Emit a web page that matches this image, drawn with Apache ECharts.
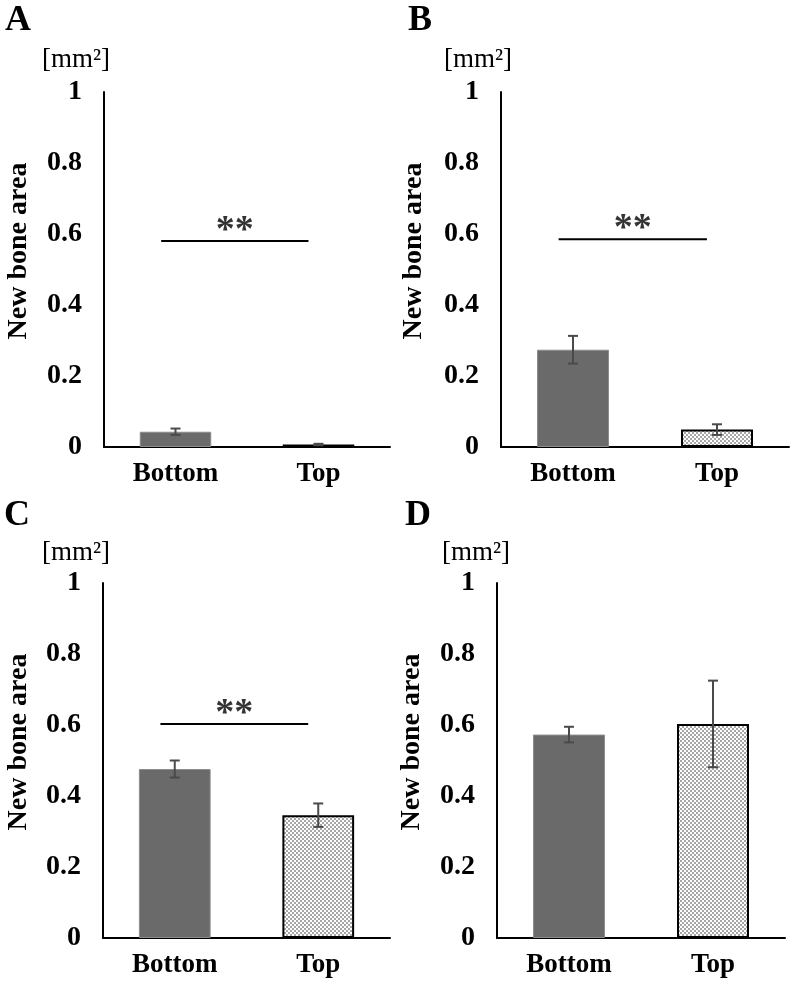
<!DOCTYPE html>
<html>
<head>
<meta charset="utf-8">
<script src="https://cdn.jsdelivr.net/npm/echarts/dist/echarts.min.js"></script>
<style>html,body{margin:0;padding:0;background:#fff}#c{width:792px;height:982px}</style>
</head>
<body>
<div id="c"></div>
<script>
// ---- data ----
const categories = ['Bottom', 'Top'];
const panelLetters = ['A', 'B', 'C', 'D'];
const bottomMean = [0.043, 0.274, 0.476, 0.573];
const bottomErr  = [0.009, 0.039, 0.024, 0.022];
const topMean    = [0.007, 0.049, 0.346, 0.603];
const topErr     = [0.002, 0.015, 0.033, 0.122];
const sigLevel   = [0.58, 0.585, 0.603, null];
const sigMark    = ['**', '**', '**', ''];
const sigSpan    = [-0.1, 0.93];
const yMin = 0, yMax = 1, yInterval = 0.2;
const unitText = '[mm\u00B2]';
const yTitle = 'New bone area';

// ---- layout ----
const grids = [
  {left: 104, top: 92, width: 286, height: 355},
  {left: 501, top: 92, width: 288, height: 355},
  {left: 103, top: 583, width: 287, height: 355},
  {left: 497, top: 583, width: 288, height: 355}
];
const letterPos = [[18, 21], [420, 21], [17, 516], [418, 516]];
const unitPos = [[76, 60], [478, 60], [76, 553], [476, 553]];
const titlePos = [[19, 251], [414, 251], [19, 742], [412, 742]];
const FONT = "'Liberation Serif', 'Times New Roman', serif";

// dot pattern
const pc = document.createElement('canvas');
pc.width = 4; pc.height = 4;
const ctx = pc.getContext('2d');
ctx.fillStyle = '#ffffff'; ctx.fillRect(0, 0, 4, 4);
ctx.fillStyle = '#222222';
[[1, 1], [3, 3]].forEach(p => { ctx.beginPath(); ctx.arc(p[0], p[1], 0.75, 0, Math.PI * 2); ctx.fill(); });
const dotPattern = {image: pc, repeat: 'repeat'};

const chart = echarts.init(document.getElementById('c'), null, {renderer: 'canvas'});

const option = {
  animation: false,
  backgroundColor: '#fff',
  grid: grids.map(g => Object.assign({containLabel: false}, g)),
  xAxis: [],
  yAxis: [],
  series: [],
  graphic: []
};

grids.forEach((g, i) => {
  option.xAxis.push({
    type: 'category', gridIndex: i, data: categories,
    axisLine: {onZero: false, lineStyle: {color: '#000', width: 2}},
    axisTick: {show: false},
    axisLabel: {color: '#000', fontFamily: FONT, fontWeight: 'bold', fontSize: 27, margin: 14}
  });
});
grids.forEach((g, i) => {
  option.xAxis.push({type: 'value', gridIndex: i, min: -0.5, max: 1.5, show: false});
});
grids.forEach((g, i) => {
  option.yAxis.push({
    type: 'value', gridIndex: i, min: yMin, max: yMax, interval: yInterval,
    axisLine: {show: true, onZero: false, lineStyle: {color: '#000', width: 2}},
    axisTick: {show: false},
    splitLine: {show: false},
    axisLabel: {color: '#000', fontFamily: FONT, fontWeight: 'bold', fontSize: 28, margin: 22, padding: [8, 0, 0, 0]}
  });
});

grids.forEach((g, i) => {
  option.series.push({
    type: 'bar', xAxisIndex: i, yAxisIndex: i, barWidth: '50%',
    data: [
      {value: bottomMean[i], itemStyle: {color: '#6a6a6a', borderColor: '#8c8c8c', borderWidth: 1}},
      {value: topMean[i], itemStyle: {color: dotPattern, borderColor: '#000', borderWidth: 2}}
    ],
    z: 2
  });
  const errData = [
    [0, bottomMean[i] - bottomErr[i], bottomMean[i] + bottomErr[i]],
    [1, topMean[i] - topErr[i], topMean[i] + topErr[i]]
  ];
  option.series.push({
    type: 'custom', xAxisIndex: i, yAxisIndex: i, z: 5,
    data: errData,
    renderItem: function (params, api) {
      const hi = api.coord([api.value(0), api.value(2)]);
      const lo = api.coord([api.value(0), api.value(1)]);
      const w = 5;
      const st = {stroke: '#4a4a4a', lineWidth: 2};
      return {type: 'group', children: [
        {type: 'line', shape: {x1: hi[0], y1: hi[1], x2: lo[0], y2: lo[1]}, style: st},
        {type: 'line', shape: {x1: hi[0] - w, y1: hi[1], x2: hi[0] + w, y2: hi[1]}, style: st},
        {type: 'line', shape: {x1: lo[0] - w, y1: lo[1], x2: lo[0] + w, y2: lo[1]}, style: st}
      ]};
    }
  });
  if (sigLevel[i] !== null) {
    option.series.push({
      type: 'line', xAxisIndex: 4 + i, yAxisIndex: i, symbol: 'none',
      lineStyle: {color: '#000', width: 2},
      data: [[sigSpan[0], sigLevel[i]], [sigSpan[1], sigLevel[i]]],
      z: 4
    });
    option.series.push({
      type: 'scatter', xAxisIndex: 4 + i, yAxisIndex: i, symbolSize: 0,
      data: [[(sigSpan[0] + sigSpan[1]) / 2, sigLevel[i]]],
      label: {show: true, position: 'top', distance: -9, formatter: sigMark[i],
        color: '#000', fontFamily: FONT, fontWeight: 'bold', fontSize: 38},
      z: 4
    });
  }
  option.graphic.push({
    type: 'text', x: letterPos[i][0], y: letterPos[i][1],
    style: {text: panelLetters[i], fill: '#000', font: 'bold 36px ' + FONT, textAlign: 'center', textVerticalAlign: 'middle'}
  });
  option.graphic.push({
    type: 'text', x: unitPos[i][0], y: unitPos[i][1],
    style: {text: unitText, fill: '#000', font: '27px ' + FONT, textAlign: 'center', textVerticalAlign: 'middle'}
  });
  option.graphic.push({
    type: 'text', x: titlePos[i][0], y: titlePos[i][1], rotation: Math.PI / 2,
    style: {text: yTitle, fill: '#000', font: 'bold 28px ' + FONT, textAlign: 'center', textVerticalAlign: 'middle'}
  });
});

chart.setOption(option);
</script>
</body>
</html>
